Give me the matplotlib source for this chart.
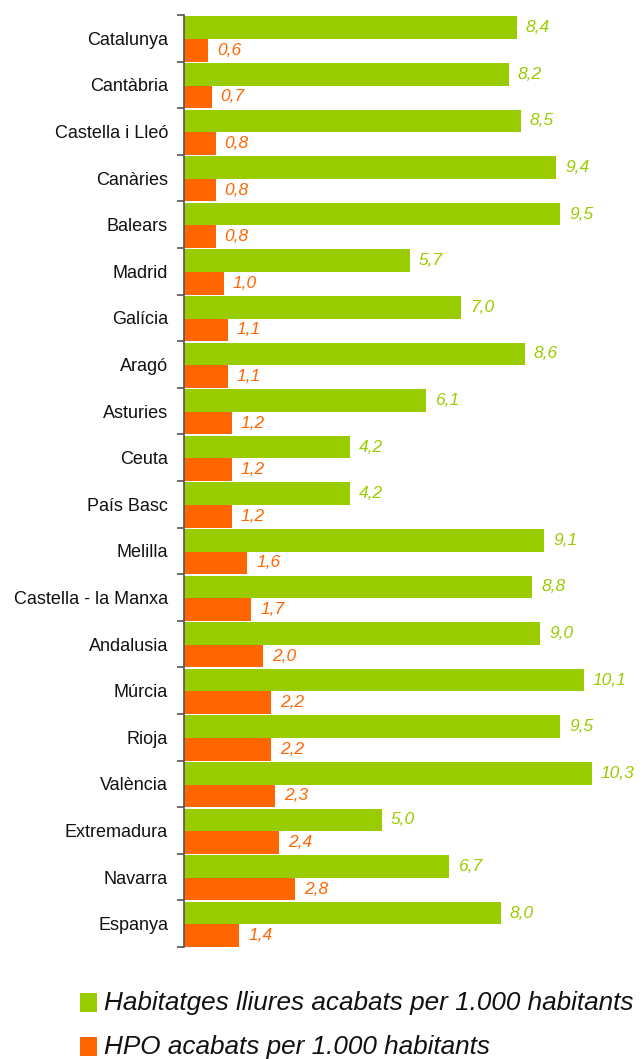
import matplotlib
matplotlib.use("Agg")
import matplotlib.pyplot as plt
from matplotlib.patches import Rectangle
from matplotlib.ticker import FixedLocator

categories = ["Catalunya", "Cantàbria", "Castella i Lleó", "Canàries", "Balears",
              "Madrid", "Galícia", "Aragó", "Asturies", "Ceuta", "País Basc",
              "Melilla", "Castella - la Manxa", "Andalusia", "Múrcia", "Rioja",
              "València", "Extremadura", "Navarra", "Espanya"]
lliures = [8.4, 8.2, 8.5, 9.4, 9.5, 5.7, 7.0, 8.6, 6.1, 4.2, 4.2,
           9.1, 8.8, 9.0, 10.1, 9.5, 10.3, 5.0, 6.7, 8.0]
hpo = [0.6, 0.7, 0.8, 0.8, 0.8, 1.0, 1.1, 1.1, 1.2, 1.2, 1.2,
       1.6, 1.7, 2.0, 2.2, 2.2, 2.3, 2.4, 2.8, 1.4]
legend_labels = ["Habitatges lliures acabats per 1.000 habitants",
                 "HPO acabats per 1.000 habitants"]

GREEN = "#99CC00"
ORANGE = "#FF6600"
W, H = 643, 1059
plt.rcParams['font.family'] = ['Liberation Sans', 'DejaVu Sans']

fig = plt.figure(figsize=(W / 100, H / 100), dpi=100)
top_px, bot_px, left_px = 15, 947, 184
ax = fig.add_axes([left_px / W, 1 - bot_px / H, (W - left_px) / W, (bot_px - top_px) / H])

n = len(categories)
bh = 0.485
idx = list(range(n))
g_y = [i + 0.03 + bh / 2 for i in idx]
o_y = [i + 0.03 + bh + bh / 2 for i in idx]
ax.barh(g_y, lliures, height=bh, color=GREEN, linewidth=0)
ax.barh(o_y, hpo, height=bh, color=ORANGE, linewidth=0)

ax.set_ylim(n, 0)
ax.set_xlim(0, (W - left_px) / 39.6)

for y, v in zip(g_y, lliures):
    ax.annotate(f"{v:.1f}".replace(".", ","), (v, y), xytext=(9, 0), textcoords="offset pixels",
                ha="left", va="center", fontsize=12.5, style="italic", color=GREEN)
for y, v in zip(o_y, hpo):
    ax.annotate(f"{v:.1f}".replace(".", ","), (v, y), xytext=(9, 0), textcoords="offset pixels",
                ha="left", va="center", fontsize=12.5, style="italic", color=ORANGE)

ax.yaxis.set_major_locator(FixedLocator([i + 0.5 for i in idx]))
ax.set_yticklabels(categories, fontsize=13, color="#111111")
ax.yaxis.set_minor_locator(FixedLocator(list(range(n + 1))))
ax.tick_params(axis="y", which="major", length=0, pad=11.5)
ax.tick_params(axis="y", which="minor", length=5, width=1.2, color="#555555", direction="out")
ax.set_xticks([])
for s in ["top", "right", "bottom"]:
    ax.spines[s].set_visible(False)
ax.spines["left"].set_color("#555555")
ax.spines["left"].set_linewidth(1.2)

# legend
for (ly, col, lab) in [(1003, GREEN, legend_labels[0]), (1047, ORANGE, legend_labels[1])]:
    fig.patches.append(Rectangle((80 / W, 1 - (ly + 9) / H), 17 / W, 19 / H,
                                 transform=fig.transFigure, color=col, linewidth=0))
    fig.text(104 / W, 1 - ly / H, lab, fontsize=18.8, style="italic", color="#111111",
             ha="left", va="center")

fig.savefig("out.png", dpi=100)
